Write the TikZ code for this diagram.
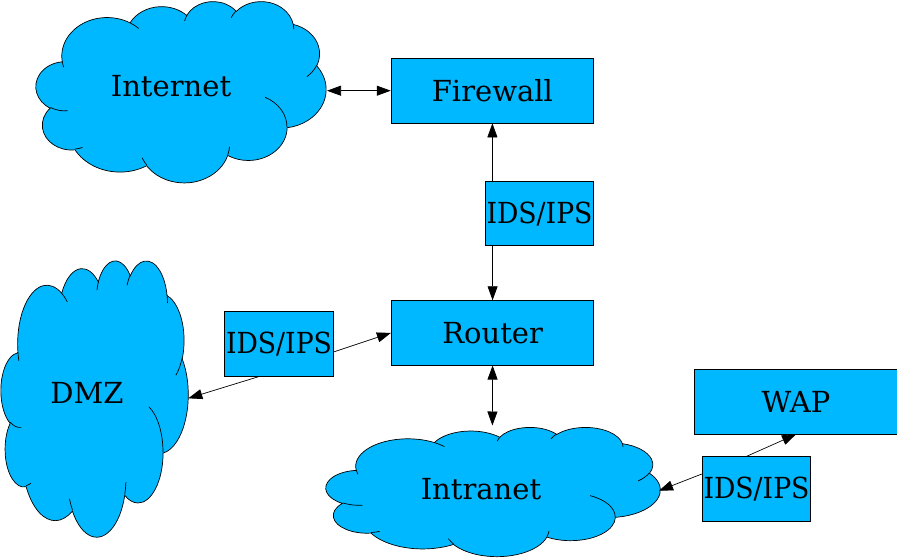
\documentclass[tikz,border=0pt]{standalone}
\usepackage{fontspec}
\usepackage{graphicx}
\setmainfont{DejaVu Serif}
\usetikzlibrary{arrows.meta}
\definecolor{netblue}{RGB}{0,184,255}

% arc given with OOXML "visual" angles -> TikZ parametric arc
\newcommand\defarc[5]{%
  \pgfmathsetmacro\tmpts{atan2((#2)*sin(#4),(#3)*cos(#4))}%
  \pgfmathsetmacro\tmpte{atan2((#2)*sin(#4+#5),(#3)*cos(#4+#5))}%
  \pgfmathsetmacro\tmpD{\tmpte-\tmpts-(#5)}%
  \pgfmathsetmacro\tmpdt{\tmpte-\tmpts-360*round(\tmpD/360)}%
  \expandafter\xdef\csname #1\endcsname{arc[x radius=#2,y radius=#3,start angle=\tmpts,delta angle=\tmpdt]}%
}

\newcommand\drawcloud[5]{%
  \begin{scope}[shift={(#2,#3)},x=#4pt,y=-#5pt]
    \path[cloudbody] (3900,14370) \cldoA \cldoB \cldoC \cldoD \cldoE \cldoF
      \cldoG \cldoH \cldoI \cldoJ \cldoK -- cycle;
    \path[cloudline] (4693,26177) \cldiA (6928,34899) \cldiB (16478,39090) \cldiC
      (28827,34751) \cldiD (34129,22954) \cldiE (41798,15354) \cldiF
      (38324,5426) \cldiG (29078,3952) \cldiH (22141,4720) \cldiI
      (14000,5192) \cldiJ (4127,15789) \cldiK;
    \coordinate (#1) at (21600,21600);
  \end{scope}}

\newcommand\idstext{\scalebox{0.92}[1]{IDS/IPS}}

\tikzset{
  cloudbody/.style={draw=black,fill=netblue,line width=0.7pt},
  cloudline/.style={draw=black,line width=0.7pt},
  boxnode/.style={draw=black,fill=netblue,line width=0.8pt,inner sep=0pt,
    minimum height=64.5pt,font=\fontsize{29}{34}\selectfont},
  widebox/.style={boxnode,minimum width=202.5pt},
  smallbox/.style={boxnode,minimum width=108.6pt},
  lbl/.style={inner sep=0pt,font=\fontsize{29}{34}\selectfont},
  conn/.style={line width=0.7pt,-{Triangle[length=14pt,width=10pt]}},
  conn2/.style={line width=0.7pt,{Triangle[length=14pt,width=10pt]}-{Triangle[length=14pt,width=10pt]}},
}

\begin{document}
\begin{tikzpicture}[x=1pt,y=-1pt]
\defarc{cldoA}{6753}{9190}{-190.4875}{123.7805}
\defarc{cldoB}{5333}{7267}{-144.1024}{89.9452}
\defarc{cldoC}{4365}{5945}{-145.8079}{99.7230}
\defarc{cldoD}{4857}{6595}{-130.9861}{117.2417}
\defarc{cldoE}{5333}{7273}{-78.7089}{109.0269}
\defarc{cldoF}{6775}{9220}{-46.2673}{130.2690}
\defarc{cldoG}{5785}{7867}{0.6250}{114.0333}
\defarc{cldoH}{6752}{9215}{22.4516}{115.1726}
\defarc{cldoI}{7720}{10543}{66.2426}{75.7110}
\defarc{cldoJ}{4360}{5918}{-274.9421}{146.7356}
\defarc{cldoK}{4345}{5945}{-246.8285}{152.5189}
\defarc{cldiA}{4345}{5945}{86.7420}{26.4295}
\defarc{cldiB}{4360}{5918}{73.6105}{11.4475}
\defarc{cldiC}{6752}{9215}{137.6242}{14.0811}
\defarc{cldiD}{6752}{9215}{6.4533}{15.9984}
\defarc{cldiE}{5785}{7867}{-70.2924}{70.9174}
\defarc{cldiF}{5333}{7273}{30.3180}{27.7515}
\defarc{cldiG}{4857}{6595}{-13.7443}{14.8589}
\defarc{cldiH}{4857}{6595}{-149.1815}{18.1954}
\defarc{cldiI}{4365}{5945}{-163.4943}{17.6864}
\defarc{cldiJ}{6753}{9190}{-66.7070}{12.3194}
\defarc{cldiK}{6753}{9190}{157.6544}{11.8582}

\useasboundingbox (0,0) rectangle (897,557);

% clouds
\drawcloud{internet}{36}{1}{0.006713}{0.0041898}
\drawcloud{dmz}{1}{260}{0.0043287}{0.0063889}
\drawcloud{intranet}{326}{427}{0.0077315}{0.0029861}

\node[lbl] (internetlbl) at (171,86) {Internet};
\node[lbl] (dmzlbl) at (87,393) {DMZ};
\node[lbl] (intranetlbl) at (481,489) {Intranet};

% boxes
\node[widebox] (fw) at (492.4,90.7) {Firewall};
\node[smallbox] (idsT) at (539.5,213.6) {\idstext};
\node[widebox] (rt) at (492.6,332.9) {Router};
\node[smallbox] (idsL) at (279,343.9) {\idstext};
\node[widebox] (wap) at (796,401.7) {WAP};
\node[smallbox] (idsB) at (756.5,489) {\idstext};

% connector end points on clouds
\coordinate (inetE) at (327,90.7);
\coordinate (dmzE) at (188.3,398.3);
\coordinate (intraN) at (492.4,425.5);
\coordinate (intraE) at (659,490.7);

% connectors
\draw[conn2] (inetE) -- (fw.west);
\draw[conn] (idsT.north -| fw.south) -- (fw.south);
\draw[conn] (idsT.south -| rt.north) -- (rt.north);
\draw[conn2] (rt.south) -- (intraN);
\draw[conn] ([yshift=-8pt]idsL.east) -- (rt.west);
\draw[conn] ([xshift=-20pt]idsL.south) -- (dmzE);
\draw[conn] ([yshift=15pt]idsB.west) -- (intraE);
\draw[conn] ([xshift=-10pt]idsB.north) -- (wap.south);
\end{tikzpicture}
\end{document}
